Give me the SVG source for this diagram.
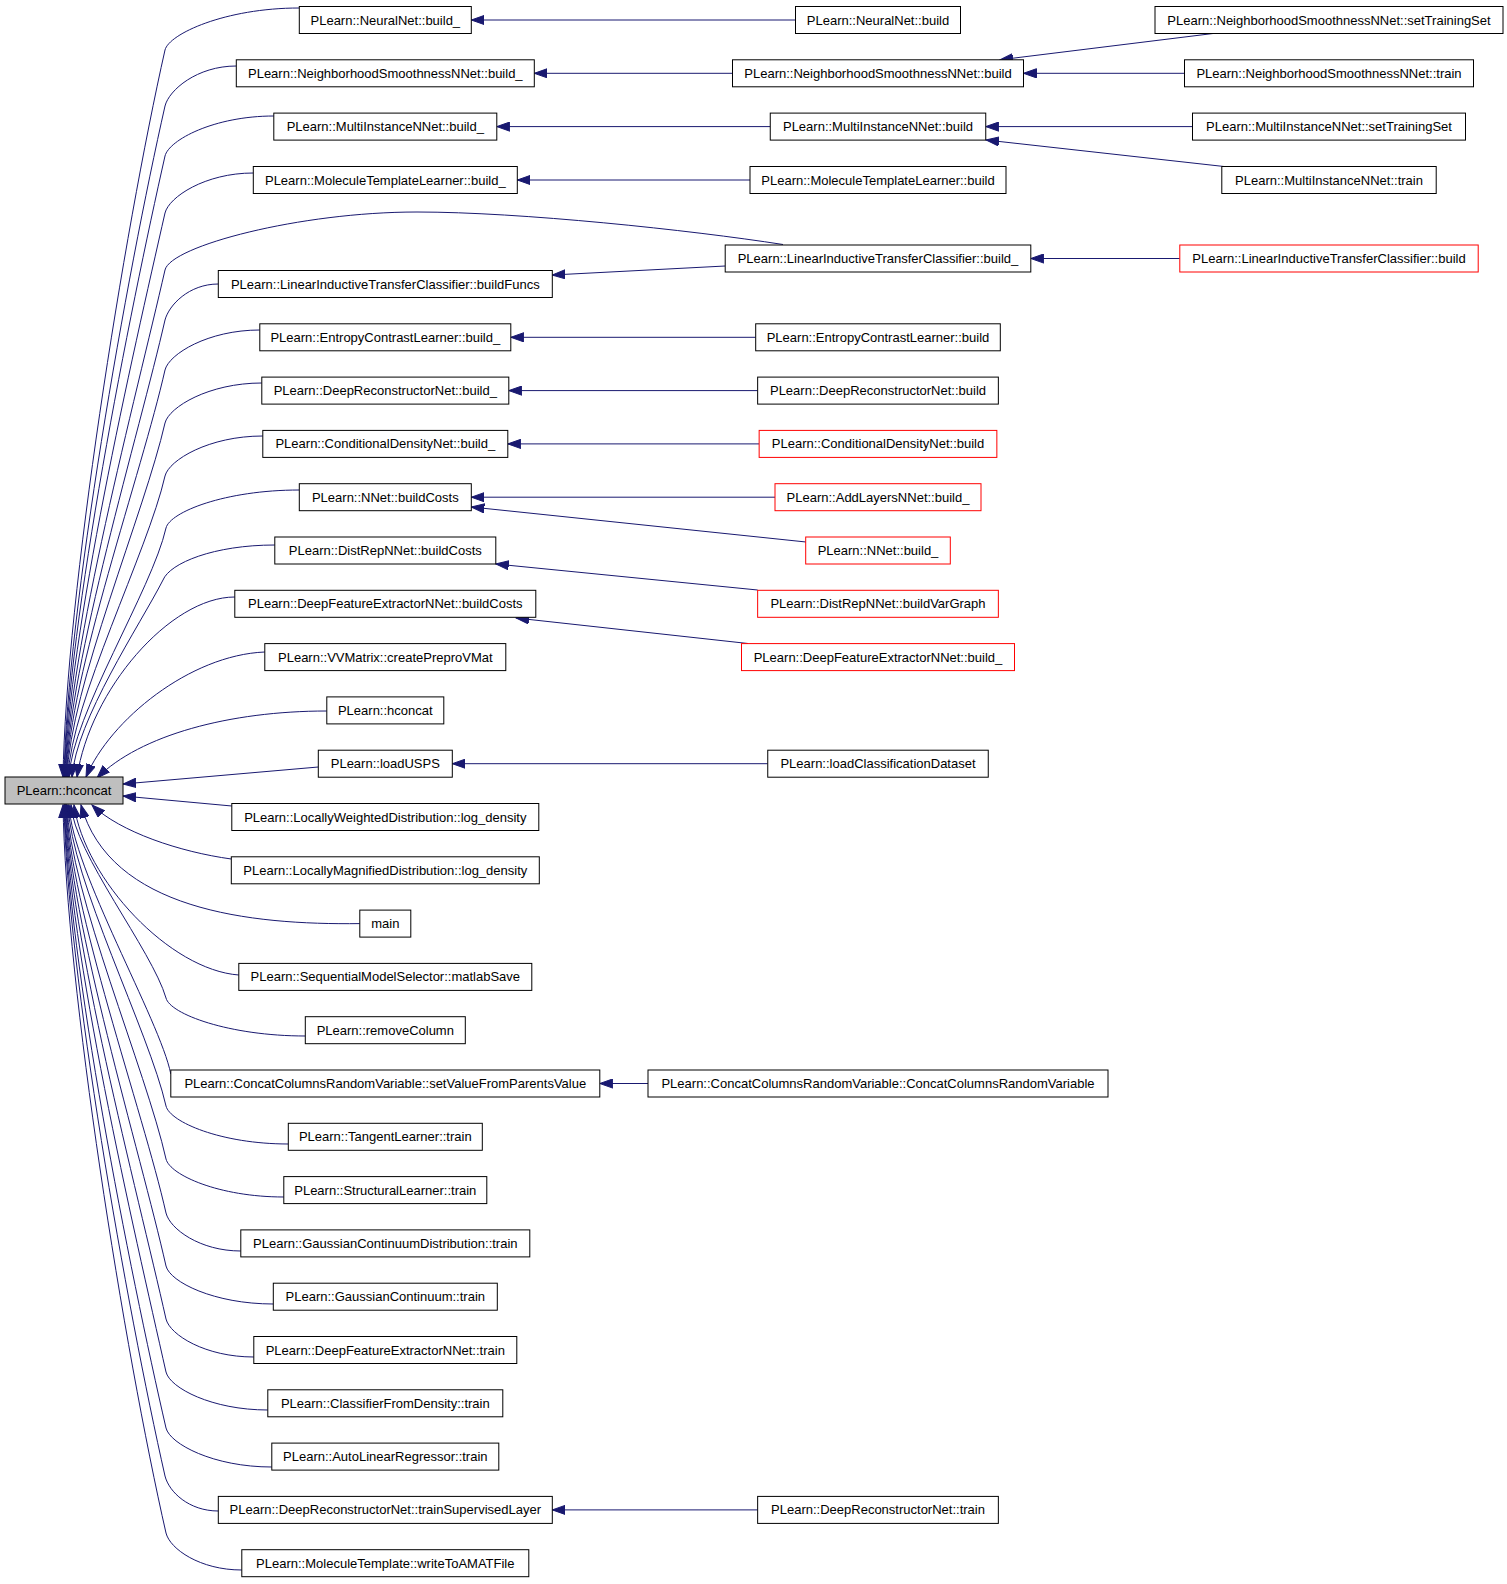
<svg xmlns="http://www.w3.org/2000/svg" width="1507" height="1584" viewBox="0 0 1507 1584">
<style>
rect{fill:#fff;stroke:#000;stroke-width:1}
.red rect{stroke:#f00}
.root rect{fill:#bfbfbf}
text{font-family:"Liberation Sans",Arial,sans-serif;font-size:13px;text-anchor:middle;fill:#000}
.e path{fill:none;stroke:#191970;stroke-width:1;marker-end:url(#ah)}
</style>
<defs>
<marker id="ah" markerWidth="14" markerHeight="10" refX="13" refY="5" orient="auto" markerUnits="userSpaceOnUse">
<path d="M0,0.4 L13,5 L0,9.6 Z" fill="#191970" stroke="#191970" stroke-width="1"/>
</marker>
</defs>
<rect x="0" y="0" width="1507" height="1584" style="fill:#fff;stroke:none"/>
<g id="connectors" class="e">
<path d="M299.3,8 C225,8 169,34 165,50 C124,232 66,595 63,777"/>
<path d="M236.3,66 C197,66 169,90 165,106 C127,274 67,609 64,777"/>
<path d="M273.8,116 C214,116 169,140 165,156 C130,311 67.5,622 64.5,777"/>
<path d="M253.3,173 C205,173 169,197 165,213 C133,354 68,636 65,777"/>
<path d="M783,244.5 C690,230 520,212 417,212 C300,212 170.5,246 165,270 C136,397 68.5,650 65.5,777"/>
<path d="M218.3,284 C189,284 169,305 165,320 C139,434 69,663 66,777"/>
<path d="M259.8,330 C208,330 169,354 165,370 C142,472 69.5,675 66.5,777"/>
<path d="M261.8,383 C209,383 169,407 165,423 C145,511 70,688 67,777"/>
<path d="M262.8,436 C209,436 169,460 165,476 C148,551 71,702 68,777"/>
<path d="M299.3,490 C225,490 170,512 166,528 C152,590 72,715 69,777"/>
<path d="M274.8,545 C214,545 170,563 163,580 C140,625 76,720 72,777"/>
<path d="M234.8,597 C170,597 90,690 77,777"/>
<path d="M264.8,652 C190,655 110,720 86,777"/>
<path d="M326.8,711 C230,711 140,735 97,778"/>
<path d="M318.3,767 L123,784"/>
<path d="M231.8,806 L123,796"/>
<path d="M231.3,859 C180,852 120,832 92,805"/>
<path d="M359.8,923.6 C250,925 110,910 81,805"/>
<path d="M238.8,975 C170,970 85,880 74,805"/>
<path d="M305.3,1036 C229,1036 170,1014 166,998 C152,950 74,853 71,805"/>
<path d="M170.8,1074 C160,1020 72,870 69,805"/>
<path d="M288.3,1144 C221,1144 170,1122 166,1106 C149,1031 71,880 68,805"/>
<path d="M283.8,1197 C219,1197 170,1175 166,1159 C146,1070 70,893 67,805"/>
<path d="M240.8,1251 C200,1251 170,1229 166,1213 C143,1111 69.5,907 66.5,805"/>
<path d="M273.3,1304 C214,1304 170,1282 166,1266 C140,1151 69,920 66,805"/>
<path d="M253.8,1357 C205.5,1357 170,1335 166,1319 C137,1190 68.5,933 65.5,805"/>
<path d="M267.8,1410 C212,1410 170,1388 166,1372 C134,1230 68,947 65,805"/>
<path d="M271.8,1467 C213.5,1467 170,1444 166,1428 C130,1272 67.5,960 64.5,805"/>
<path d="M218.3,1511 C189,1511 169,1492 165,1476 C127,1308 67,973 64,805"/>
<path d="M241.8,1570 C200,1570 170,1549 166,1533 C124.5,1351 66,987 63,805"/>
<path d="M795.5,20 L471.3,20"/>
<path d="M732.5,73.3 L534.3,73.3"/>
<path d="M770.25,126.6 L496.8,126.6"/>
<path d="M750,180 L517.3,180"/>
<path d="M725.2,266 L552.3,275"/>
<path d="M755.7,337.3 L510.8,337.3"/>
<path d="M757.65,390.6 L508.8,390.6"/>
<path d="M759.15,443.9 L507.8,443.9"/>
<path d="M775,497.2 L471.3,497.2"/>
<path d="M806,542 L471.3,507"/>
<path d="M757.65,590 L495.8,564"/>
<path d="M748,643.5 L516,618"/>
<path d="M767.75,763.7 L452.3,763.7"/>
<path d="M648,1083.5 L599.8,1083.5"/>
<path d="M757.65,1509.9 L552.3,1509.9"/>
<path d="M1213,33.5 L1000,59.8"/>
<path d="M1184.5,73.3 L1023.5,73.3"/>
<path d="M1192.5,126.6 L985.75,126.6"/>
<path d="M1224,166.5 L986,140"/>
<path d="M1179.8,258.5 L1030.8,258.5"/>
</g>
<g id="n_root" class="root"><rect x="5" y="777" width="118" height="27"/><text x="64" y="795">PLearn::hconcat</text></g>
<g id="n_a"><rect x="299.3" y="6.5" width="172" height="27"/><text x="385.3" y="24.5">PLearn::NeuralNet::build_</text></g>
<g id="n_b"><rect x="236.3" y="59.8" width="298" height="27"/><text x="385.3" y="77.8">PLearn::NeighborhoodSmoothnessNNet::build_</text></g>
<g id="n_c"><rect x="273.8" y="113.1" width="223" height="27"/><text x="385.3" y="131.1">PLearn::MultiInstanceNNet::build_</text></g>
<g id="n_d"><rect x="253.3" y="166.5" width="264" height="27"/><text x="385.3" y="184.5">PLearn::MoleculeTemplateLearner::build_</text></g>
<g id="n_e"><rect x="218.3" y="270.5" width="334" height="27"/><text x="385.3" y="288.5">PLearn::LinearInductiveTransferClassifier::buildFuncs</text></g>
<g id="n_f"><rect x="259.8" y="323.8" width="251" height="27"/><text x="385.3" y="341.8">PLearn::EntropyContrastLearner::build_</text></g>
<g id="n_g"><rect x="261.8" y="377.1" width="247" height="27"/><text x="385.3" y="395.1">PLearn::DeepReconstructorNet::build_</text></g>
<g id="n_h"><rect x="262.8" y="430.4" width="245" height="27"/><text x="385.3" y="448.4">PLearn::ConditionalDensityNet::build_</text></g>
<g id="n_i"><rect x="299.3" y="483.7" width="172" height="27"/><text x="385.3" y="501.7">PLearn::NNet::buildCosts</text></g>
<g id="n_j"><rect x="274.8" y="537" width="221" height="27"/><text x="385.3" y="555">PLearn::DistRepNNet::buildCosts</text></g>
<g id="n_k"><rect x="234.8" y="590.3" width="301" height="27"/><text x="385.3" y="608.3">PLearn::DeepFeatureExtractorNNet::buildCosts</text></g>
<g id="n_l"><rect x="264.8" y="643.6" width="241" height="27"/><text x="385.3" y="661.6">PLearn::VVMatrix::createPreproVMat</text></g>
<g id="n_m"><rect x="326.8" y="696.9" width="117" height="27"/><text x="385.3" y="714.9">PLearn::hconcat</text></g>
<g id="n_n"><rect x="318.3" y="750.2" width="134" height="27"/><text x="385.3" y="768.2">PLearn::loadUSPS</text></g>
<g id="n_o"><rect x="231.8" y="803.5" width="307" height="27"/><text x="385.3" y="821.5">PLearn::LocallyWeightedDistribution::log_density</text></g>
<g id="n_p"><rect x="231.3" y="856.8" width="308" height="27"/><text x="385.3" y="874.8">PLearn::LocallyMagnifiedDistribution::log_density</text></g>
<g id="n_q"><rect x="359.8" y="910.1" width="51" height="27"/><text x="385.3" y="928.1">main</text></g>
<g id="n_r"><rect x="238.8" y="963.4" width="293" height="27"/><text x="385.3" y="981.4">PLearn::SequentialModelSelector::matlabSave</text></g>
<g id="n_s"><rect x="305.3" y="1016.7" width="160" height="27"/><text x="385.3" y="1034.7">PLearn::removeColumn</text></g>
<g id="n_t"><rect x="170.8" y="1070" width="429" height="27"/><text x="385.3" y="1088">PLearn::ConcatColumnsRandomVariable::setValueFromParentsValue</text></g>
<g id="n_u"><rect x="288.3" y="1123.3" width="194" height="27"/><text x="385.3" y="1141.3">PLearn::TangentLearner::train</text></g>
<g id="n_v"><rect x="283.8" y="1176.6" width="203" height="27"/><text x="385.3" y="1194.6">PLearn::StructuralLearner::train</text></g>
<g id="n_w"><rect x="240.8" y="1229.9" width="289" height="27"/><text x="385.3" y="1247.9">PLearn::GaussianContinuumDistribution::train</text></g>
<g id="n_x"><rect x="273.3" y="1283.2" width="224" height="27"/><text x="385.3" y="1301.2">PLearn::GaussianContinuum::train</text></g>
<g id="n_y"><rect x="253.8" y="1336.5" width="263" height="27"/><text x="385.3" y="1354.5">PLearn::DeepFeatureExtractorNNet::train</text></g>
<g id="n_z"><rect x="267.8" y="1389.8" width="235" height="27"/><text x="385.3" y="1407.8">PLearn::ClassifierFromDensity::train</text></g>
<g id="n_A"><rect x="271.8" y="1443.1" width="227" height="27"/><text x="385.3" y="1461.1">PLearn::AutoLinearRegressor::train</text></g>
<g id="n_B"><rect x="218.3" y="1496.4" width="334" height="27"/><text x="385.3" y="1514.4">PLearn::DeepReconstructorNet::trainSupervisedLayer</text></g>
<g id="n_C"><rect x="241.8" y="1549.7" width="287" height="27"/><text x="385.3" y="1567.7">PLearn::MoleculeTemplate::writeToAMATFile</text></g>
<g id="m_1"><rect x="795.5" y="6.5" width="165" height="27"/><text x="878" y="24.5">PLearn::NeuralNet::build</text></g>
<g id="m_2"><rect x="732.5" y="59.8" width="291" height="27"/><text x="878" y="77.8">PLearn::NeighborhoodSmoothnessNNet::build</text></g>
<g id="m_3"><rect x="770.25" y="113.1" width="215.5" height="27"/><text x="878" y="131.1">PLearn::MultiInstanceNNet::build</text></g>
<g id="m_4"><rect x="750" y="166.5" width="256" height="27"/><text x="878" y="184.5">PLearn::MoleculeTemplateLearner::build</text></g>
<g id="m_5"><rect x="725.2" y="245" width="305.6" height="27"/><text x="878" y="263">PLearn::LinearInductiveTransferClassifier::build_</text></g>
<g id="m_6"><rect x="755.7" y="323.8" width="244.6" height="27"/><text x="878" y="341.8">PLearn::EntropyContrastLearner::build</text></g>
<g id="m_7"><rect x="757.65" y="377.1" width="240.7" height="27"/><text x="878" y="395.1">PLearn::DeepReconstructorNet::build</text></g>
<g id="m_8" class="red"><rect x="759.15" y="430.4" width="237.7" height="27"/><text x="878" y="448.4">PLearn::ConditionalDensityNet::build</text></g>
<g id="m_9" class="red"><rect x="775" y="483.7" width="206" height="27"/><text x="878" y="501.7">PLearn::AddLayersNNet::build_</text></g>
<g id="m_10" class="red"><rect x="805.7" y="537" width="144.6" height="27"/><text x="878" y="555">PLearn::NNet::build_</text></g>
<g id="m_11" class="red"><rect x="757.65" y="590.3" width="240.7" height="27"/><text x="878" y="608.3">PLearn::DistRepNNet::buildVarGraph</text></g>
<g id="m_12" class="red"><rect x="741.5" y="643.6" width="273" height="27"/><text x="878" y="661.6">PLearn::DeepFeatureExtractorNNet::build_</text></g>
<g id="m_13"><rect x="767.75" y="750.2" width="220.5" height="27"/><text x="878" y="768.2">PLearn::loadClassificationDataset</text></g>
<g id="m_14"><rect x="648" y="1070" width="460" height="27"/><text x="878" y="1088">PLearn::ConcatColumnsRandomVariable::ConcatColumnsRandomVariable</text></g>
<g id="m_15"><rect x="757.65" y="1496.4" width="240.7" height="27"/><text x="878" y="1514.4">PLearn::DeepReconstructorNet::train</text></g>
<g id="r_1"><rect x="1155" y="6.5" width="348" height="27"/><text x="1329" y="24.5">PLearn::NeighborhoodSmoothnessNNet::setTrainingSet</text></g>
<g id="r_2"><rect x="1184.5" y="59.8" width="289" height="27"/><text x="1329" y="77.8">PLearn::NeighborhoodSmoothnessNNet::train</text></g>
<g id="r_3"><rect x="1192.5" y="113.1" width="273" height="27"/><text x="1329" y="131.1">PLearn::MultiInstanceNNet::setTrainingSet</text></g>
<g id="r_4"><rect x="1221.8" y="166.5" width="214.4" height="27"/><text x="1329" y="184.5">PLearn::MultiInstanceNNet::train</text></g>
<g id="r_5" class="red"><rect x="1179.8" y="245" width="298.4" height="27"/><text x="1329" y="263">PLearn::LinearInductiveTransferClassifier::build</text></g>
</svg>
